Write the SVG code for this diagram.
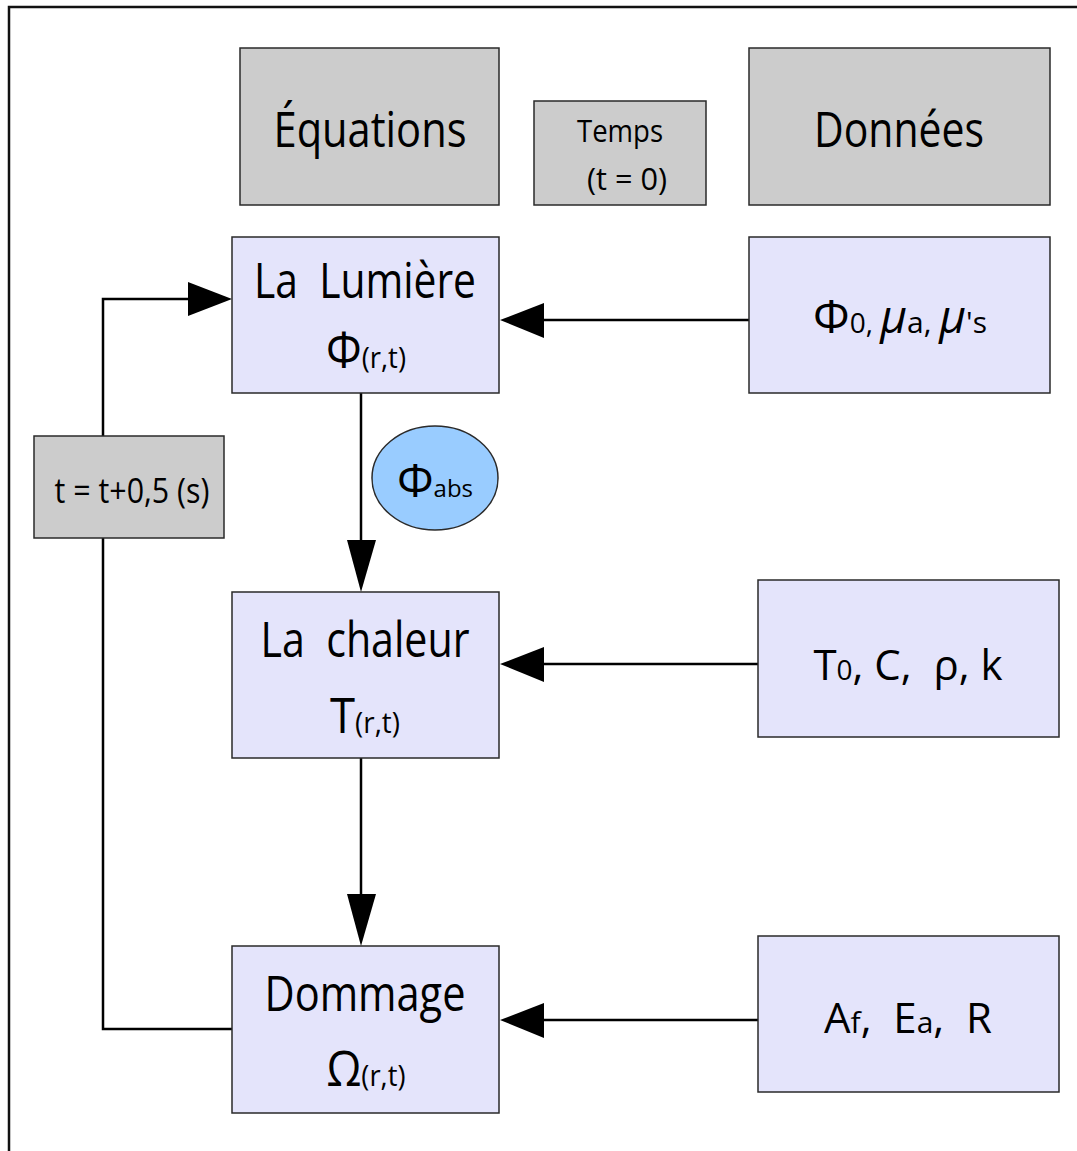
<svg xmlns="http://www.w3.org/2000/svg" width="1077" height="1151" viewBox="0 0 1077 1151">
<defs>
<style>
.g{fill:#cccccc;stroke:#2a2a2a;stroke-width:1.5}
.b{fill:#e4e4fb;stroke:#2a2a2a;stroke-width:1.5}
.t{font-family:"Open Sans","Noto Sans",sans-serif;fill:#000;text-anchor:middle}
.c{fill:none;stroke:#000;stroke-width:2.5}
.a{fill:#000}
</style>
</defs>
<rect width="1077" height="1151" fill="#fff"/>
<g id="frame"><path d="M9,1151 V7 H1077" fill="none" stroke="#111" stroke-width="2.5"/></g>

<g id="connectors">
<path class="c" d="M361,393 V545"/>
<polygon class="a" points="347,540 376,540 361,592"/>
<path class="c" d="M361,758 V900"/>
<polygon class="a" points="347,894 376,894 361,946"/>
<path class="c" d="M749,320 H540"/>
<polygon class="a" points="544,303 544,338 500,320"/>
<path class="c" d="M758,664 H540"/>
<polygon class="a" points="544,647 544,682 500,664"/>
<path class="c" d="M758,1020 H540"/>
<polygon class="a" points="544,1003 544,1038 500,1020"/>
<path class="c" d="M232,1029 H103 V299 H192"/>
<polygon class="a" points="188,282 188,316 232,299"/>
</g>

<g id="equations"><rect class="g" x="240" y="48" width="259" height="157"/>
<text class="t" x="370" y="147" font-size="49" textLength="193" lengthAdjust="spacingAndGlyphs">Équations</text></g>

<g id="temps"><rect class="g" x="534" y="101" width="172" height="104"/>
<text class="t" x="620" y="142" font-size="31" textLength="86" lengthAdjust="spacingAndGlyphs">Temps</text>
<text class="t" x="627" y="190" font-size="31" textLength="80" lengthAdjust="spacingAndGlyphs">(t = 0)</text></g>

<g id="donnees"><rect class="g" x="749" y="48" width="301" height="157"/>
<text class="t" x="899" y="147" font-size="49" textLength="170" lengthAdjust="spacingAndGlyphs">Données</text></g>

<g id="lumiere"><rect class="b" x="232" y="237" width="267" height="156"/>
<text class="t" x="365" y="298" font-size="49" textLength="222" lengthAdjust="spacingAndGlyphs">La&#160; Lumière</text>
<text class="t" x="366" y="368" font-size="49" textLength="80" lengthAdjust="spacingAndGlyphs">Φ<tspan font-size="30">(r,t)</tspan></text></g>

<g id="data1"><rect class="b" x="749" y="237" width="301" height="156"/>
<text class="t" x="900" y="333" font-size="46">Φ<tspan font-size="28">0,&#160;</tspan><tspan font-style="italic">μ</tspan><tspan font-size="30">a,&#160;</tspan><tspan font-style="italic">μ</tspan><tspan font-size="30">'s</tspan></text></g>

<g id="phiabs"><ellipse cx="435" cy="478" rx="63" ry="52" fill="#99ccff" stroke="#2a2a2a" stroke-width="1.5"/>
<text class="t" x="435" y="497" font-size="46">Φ<tspan font-size="24">abs</tspan></text></g>

<g id="increment"><rect class="g" x="34" y="436" width="190" height="102"/>
<text class="t" x="132" y="503" font-size="35" textLength="155" lengthAdjust="spacingAndGlyphs">t = t+0,5 (s)</text></g>

<g id="chaleur"><rect class="b" x="232" y="592" width="267" height="166"/>
<text class="t" x="365" y="657" font-size="49" textLength="209" lengthAdjust="spacingAndGlyphs">La&#160; chaleur</text>
<text class="t" x="365" y="733" font-size="49" textLength="70" lengthAdjust="spacingAndGlyphs">T<tspan font-size="30">(r,t)</tspan></text></g>

<g id="data2"><rect class="b" x="758" y="580" width="301" height="157"/>
<text class="t" x="908" y="680" font-size="42">T<tspan font-size="28">0</tspan>, C,&#160; ρ, k</text></g>

<g id="dommage"><rect class="b" x="232" y="946" width="267" height="167"/>
<text class="t" x="365" y="1011" font-size="49" textLength="201" lengthAdjust="spacingAndGlyphs">Dommage</text>
<text class="t" x="366" y="1086" font-size="49" textLength="79" lengthAdjust="spacingAndGlyphs">Ω<tspan font-size="30">(r,t)</tspan></text></g>

<g id="data3"><rect class="b" x="758" y="936" width="301" height="156"/>
<text class="t" x="908" y="1033" font-size="42">A<tspan font-size="30">f</tspan>,&#160; E<tspan font-size="30">a</tspan>,&#160; R</text></g>
</svg>
